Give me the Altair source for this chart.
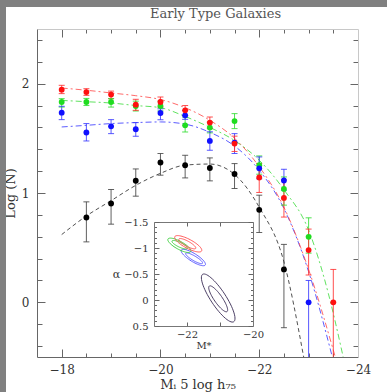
import altair as alt
import pandas as pd

# ---------------- luminosity function: log N per magnitude bin ----------------
black_mag  = [-18.5, -19.0, -19.5, -20.0, -20.5, -21.0, -21.5, -22.0, -22.5]
black_logn = [0.776, 0.904, 1.112, 1.279, 1.254, 1.229, 1.174, 0.846, 0.301]
black_lo   = [0.553, 0.715, 0.971, 1.163, 1.138, 1.111, 1.041, 0.639, -0.232]
black_hi   = [0.919, 1.032, 1.220, 1.361, 1.345, 1.321, 1.269, 0.980, 0.530]

green_mag  = [-18.0, -18.5, -19.0, -19.5, -20.0, -20.5, -21.0, -21.5, -22.0, -22.5, -23.0]
green_logn = [1.832, 1.832, 1.832, 1.796, 1.796, 1.619, 1.598, 1.658, 1.254, 1.037, 0.599]
green_lo   = [1.786, 1.800, 1.786, 1.750, 1.750, 1.558, 1.550, 1.589, 1.172, 0.889, 0.450]
green_hi   = [1.863, 1.865, 1.863, 1.840, 1.840, 1.695, 1.650, 1.726, 1.339, 1.147, 0.773]

blue_mag  = [-18.0, -18.5, -19.0, -19.5, -20.0, -20.5, -21.0, -21.5, -22.0, -22.5, -23.0]
blue_logn = [1.735, 1.553, 1.610, 1.583, 1.732, 1.710, 1.476, 1.461, 1.226, 1.114, 0.000]
blue_lo   = [1.671, 1.476, 1.543, 1.519, 1.670, 1.674, 1.391, 1.361, 1.130, 1.026, -0.600]
blue_hi   = [1.793, 1.635, 1.671, 1.644, 1.770, 1.756, 1.560, 1.543, 1.330, 1.217, 0.200]

red_mag  = [-18.0, -18.5, -19.0, -19.5, -20.0, -20.5, -21.0, -21.5, -22.0, -22.5, -23.0, -23.5]
red_logn = [1.945, 1.923, 1.900, 1.808, 1.832, 1.756, 1.644, 1.452, 1.142, 0.955, 0.478, 0.000]
red_lo   = [1.909, 1.893, 1.863, 1.756, 1.786, 1.710, 1.589, 1.380, 1.005, 0.780, 0.250, -0.600]
red_hi   = [1.985, 1.954, 1.932, 1.857, 1.878, 1.800, 1.695, 1.520, 1.270, 1.120, 0.670, 0.301]

# ---------------- Schechter fits, sampled along magnitude ----------------
black_fit_mag = [-18.0, -18.5, -19.0, -19.5, -20.0, -20.5, -21.0, -21.5, -22.0, -22.5, -22.9]
black_fit     = [0.62, 0.79, 0.93, 1.07, 1.18, 1.255, 1.265, 1.17, 0.87, 0.37, -0.5]

green_fit_mag = [-18.0, -18.5, -19.0, -19.5, -20.0, -20.5, -21.0, -21.5, -22.0, -22.5, -23.0, -23.4, -23.7]
green_fit     = [1.847, 1.835, 1.823, 1.80, 1.78, 1.70, 1.60, 1.48, 1.30, 1.03, 0.66, 0.08, -0.5]

blue_fit_mag = [-18.0, -18.5, -19.0, -19.5, -20.0, -20.5, -21.0, -21.5, -22.0, -22.5, -23.0, -23.48]
blue_fit     = [1.604, 1.619, 1.635, 1.644, 1.650, 1.63, 1.555, 1.43, 1.208, 0.858, 0.28, -0.5]

red_fit_mag = [-18.0, -18.5, -19.0, -19.5, -20.0, -20.5, -21.0, -21.5, -22.0, -22.5, -23.0, -23.54]
red_fit     = [1.96, 1.94, 1.915, 1.89, 1.855, 1.78, 1.665, 1.50, 1.24, 0.87, 0.30, -0.5]

# ---------------- confidence ellipses for (M*, alpha) ----------------
ell_sample = ["black", "black", "blue", "blue", "green", "green", "red", "red"]
ell_level  = ["outer", "inner", "outer", "inner", "outer", "inner", "outer", "inner"]
ell_cx = [-21.055, -21.055, -21.809, -21.785, -22.231, -22.222, -21.963, -21.991]
ell_cy = [-0.038, -0.023, -0.817, -0.802, -1.052, -1.063, -1.081, -1.083]
ell_ax = [0.471, 0.268, 0.363, 0.255, 0.345, 0.231, 0.406, 0.255]
ell_ay = [0.456, 0.246, 0.144, 0.096, 0.121, 0.071, 0.138, 0.090]
ell_bx = [0.194, 0.102, 0.066, 0.036, 0.060, 0.031, 0.066, 0.038]
ell_by = [-0.078, -0.043, -0.065, -0.038, -0.067, -0.040, -0.076, -0.042]

samples = ["black", "green", "blue", "red"]
point_colors = ["#000000", "#1fdc1f", "#1010ff", "#ff1010"]
bar_colors = ["#444444", "#33dd33", "#3a3aff", "#ff3030"]
line_colors = ["#333333", "#44dd44", "#4040ff", "#ff5050"]
ell_colors = ["#3a2c55", "#33cc33", "#5050ff", "#ff4a4a"]

W, H = 321, 328

# ---------------- tables ----------------
rows = []
for name, mags, vals, los, his in [
    ("black", black_mag, black_logn, black_lo, black_hi),
    ("green", green_mag, green_logn, green_lo, green_hi),
    ("blue", blue_mag, blue_logn, blue_lo, blue_hi),
    ("red", red_mag, red_logn, red_lo, red_hi),
]:
    for m, v, lo, hi in zip(mags, vals, los, his):
        rows.append({"sample": name, "mag": m, "logn": v, "lo": lo, "hi": hi})
lf = pd.DataFrame(rows)

fit_rows = []
for name, mags, vals in [
    ("black", black_fit_mag, black_fit),
    ("green", green_fit_mag, green_fit),
    ("blue", blue_fit_mag, blue_fit),
    ("red", red_fit_mag, red_fit),
]:
    for m, v in zip(mags, vals):
        fit_rows.append({"sample": name, "mag": m, "logn": v})
fits = pd.DataFrame(fit_rows)

ell = pd.DataFrame({
    "sample": ell_sample, "level": ell_level,
    "cx": ell_cx, "cy": ell_cy, "ax": ell_ax, "ay": ell_ay, "bx": ell_bx, "by": ell_by,
})
ell["id"] = ell["sample"] + "_" + ell["level"]
angles = pd.DataFrame({"t": list(range(0, 361, 6))})
ell_pts = ell.merge(angles, how="cross")

# ---------------- scales ----------------
x_main = alt.Scale(domain=[-24, -17.5], reverse=True, nice=False, zero=False)
y_main = alt.Scale(domain=[-0.5, 2.5], nice=False, zero=False)
x_in = alt.Scale(domain=[-23, -20], range=[117, 216], nice=False, zero=False)
y_in = alt.Scale(domain=[-1.5, 0.5], range=[193, 297], nice=False, zero=False)

x_tick_vals = [round(-18 - 0.5 * i, 1) for i in range(12)]
y_tick_vals = [round(-0.4 + 0.2 * i, 1) for i in range(15)]
xin_tick_vals = [-22, -21]
yin_tick_vals = [round(-1.5 + 0.1 * i, 1) for i in range(21)]

x_major = {"condition": {"test": "datum.value % 2 === 0", "value": 8}, "value": 4}
y_major = {"condition": {"test": "abs(datum.value - round(datum.value)) < 0.001", "value": 8}, "value": 5}
yin_major = {"condition": {"test": "abs(datum.value * 2 - round(datum.value * 2)) < 0.001", "value": 5}, "value": 2.5}


def tick_axis(orient, offset, values, size, dcolor):
    return alt.Axis(orient=orient, offset=offset, values=values, labels=False, title=None,
                    grid=False, domain=True, domainColor=dcolor, domainWidth=1,
                    tickColor="#666666", tickWidth=1, tickSize=size)


color_pts = alt.Color("sample:N", scale=alt.Scale(domain=samples, range=point_colors), legend=None)
color_bar = alt.Color("sample:N", scale=alt.Scale(domain=samples, range=bar_colors), legend=None)
color_line = alt.Color("sample:N", scale=alt.Scale(domain=samples, range=line_colors), legend=None)
color_ell = alt.Color("sample:N", scale=alt.Scale(domain=samples, range=ell_colors), legend=None)

# ---------------- page edge strips ----------------
strip_top = alt.Chart(pd.DataFrame({"k": [0]})).mark_rect(color="#808080").encode(
    x=alt.value(-37), x2=alt.value(350), y=alt.value(-29), y2=alt.value(-22))
strip_left = alt.Chart(pd.DataFrame({"k": [0]})).mark_rect(color="#808080").encode(
    x=alt.value(-37), x2=alt.value(-31), y=alt.value(-29), y2=alt.value(363))

# ---------------- main panel ----------------
curves = alt.Chart(fits).mark_line(strokeWidth=1, opacity=0.85, clip=True, interpolate="monotone").encode(
    x=alt.X("mag:Q", scale=x_main,
            axis=tick_axis("bottom", -H, x_tick_vals, x_major, "#c8c8c8")),
    y=alt.Y("logn:Q", scale=y_main,
            axis=tick_axis("left", -W, y_tick_vals, y_major, "#c8c8c8")),
    color=color_line,
    strokeDash=alt.StrokeDash("sample:N", scale=alt.Scale(
        domain=samples, range=[[4, 3], [6, 3, 2, 3], [6, 3, 2, 3], [6, 3, 2, 3]]), legend=None),
    detail="sample:N",
)

bars = alt.Chart(lf).mark_rule(strokeWidth=1, opacity=0.85, clip=True).encode(
    x=alt.X("mag:Q", scale=x_main,
            axis=alt.Axis(orient="bottom", values=[-18, -20, -22, -24], format="d", ticks=False,
                          domain=False, grid=False, labelPadding=7, labelFlush=False,
                          title="Mᵢ  5 log h₇₅", titlePadding=3)),
    y=alt.Y("lo:Q", scale=y_main,
            axis=alt.Axis(orient="left", values=[0, 1, 2], format="d", ticks=False, domain=False,
                          grid=False, labelPadding=8, title="Log (N)", titlePadding=4)),
    y2="hi:Q",
    color=color_bar,
)

caps_lo = alt.Chart(lf).mark_tick(orient="horizontal", size=6, thickness=1, opacity=0.85, clip=True).encode(
    x=alt.X("mag:Q", scale=x_main, axis=None),
    y=alt.Y("lo:Q", scale=y_main, axis=None),
    color=color_bar,
)
caps_hi = alt.Chart(lf).mark_tick(orient="horizontal", size=6, thickness=1, opacity=0.85, clip=True).encode(
    x=alt.X("mag:Q", scale=x_main, axis=None),
    y=alt.Y("hi:Q", scale=y_main, axis=None),
    color=color_bar,
)

points = alt.Chart(lf).mark_circle(size=34, opacity=1).encode(
    x=alt.X("mag:Q", scale=x_main,
            axis=tick_axis("top", -H, x_tick_vals, x_major, "#666666")),
    y=alt.Y("logn:Q", scale=y_main,
            axis=tick_axis("right", -W, y_tick_vals, y_major, "#666666")),
    color=color_pts,
)

# ---------------- inset: (M*, alpha) contours ----------------
ellipses = alt.Chart(ell_pts).transform_calculate(
    ex="datum.cx + datum.ax * cos(datum.t * PI / 180) + datum.bx * sin(datum.t * PI / 180)",
    ey="datum.cy + datum.ay * cos(datum.t * PI / 180) + datum.by * sin(datum.t * PI / 180)",
).mark_line(strokeWidth=1, opacity=0.9).encode(
    x=alt.X("ex:Q", scale=x_in,
            axis=alt.Axis(orient="bottom", offset=297 - H, values=[-22, -20], format="d",
                          ticks=False, domain=False, grid=False, labelPadding=3,
                          labelFlush=False, labelFontSize=10, title="M*",
                          titleFontSize=10, titlePadding=1)),
    y=alt.Y("ey:Q", scale=y_in,
            axis=alt.Axis(orient="left", offset=-117, values=[-1.5, -1, -0.5, 0, 0.5],
                          format="~g", ticks=False, domain=False, grid=False,
                          labelPadding=6, labelFontSize=10, title="α", titleFontSize=11,
                          titleAngle=0, titleX=-38, titleY=245, titleAlign="center",
                          titleBaseline="middle")),
    color=color_ell,
    detail="id:N",
    order="t:Q",
)

inset_frame_a = alt.Chart(ell).mark_point(opacity=0).encode(
    x=alt.X("cx:Q", scale=x_in, axis=tick_axis("top", -297, xin_tick_vals, 4, "#777777")),
    y=alt.Y("cy:Q", scale=y_in, axis=tick_axis("right", 117 - W, yin_tick_vals, yin_major, "#777777")),
)
inset_frame_b = alt.Chart(ell).mark_point(opacity=0).encode(
    x=alt.X("cx:Q", scale=x_in, axis=tick_axis("bottom", 193 - H, xin_tick_vals, 4, "#777777")),
    y=alt.Y("cy:Q", scale=y_in, axis=tick_axis("left", -216, yin_tick_vals, yin_major, "#777777")),
)

chart = alt.layer(
    strip_top, strip_left, curves, bars, caps_lo, caps_hi, points,
    ellipses, inset_frame_a, inset_frame_b,
).resolve_scale(
    x="independent", y="independent", color="independent", strokeDash="independent"
).properties(
    width=W, height=H,
    autosize=alt.AutoSizeParams(type="none"),
    padding={"left": 37, "top": 29, "right": 29, "bottom": 35},
    title=alt.TitleParams("Early Type Galaxies", font="DejaVu Serif", fontSize=13,
                          fontWeight="normal", color="#555555", anchor="middle",
                          frame="group", dx=18, dy=14, offset=-17, baseline="alphabetic"),
).configure_view(
    stroke=None
).configure_axis(
    labelFont="DejaVu Serif", titleFont="DejaVu Serif", labelFontSize=12, titleFontSize=13,
    labelColor="#333333", titleColor="#333333", titleFontWeight="normal",
)

chart.save("out.html", embed_options={"renderer": "svg", "actions": False})
